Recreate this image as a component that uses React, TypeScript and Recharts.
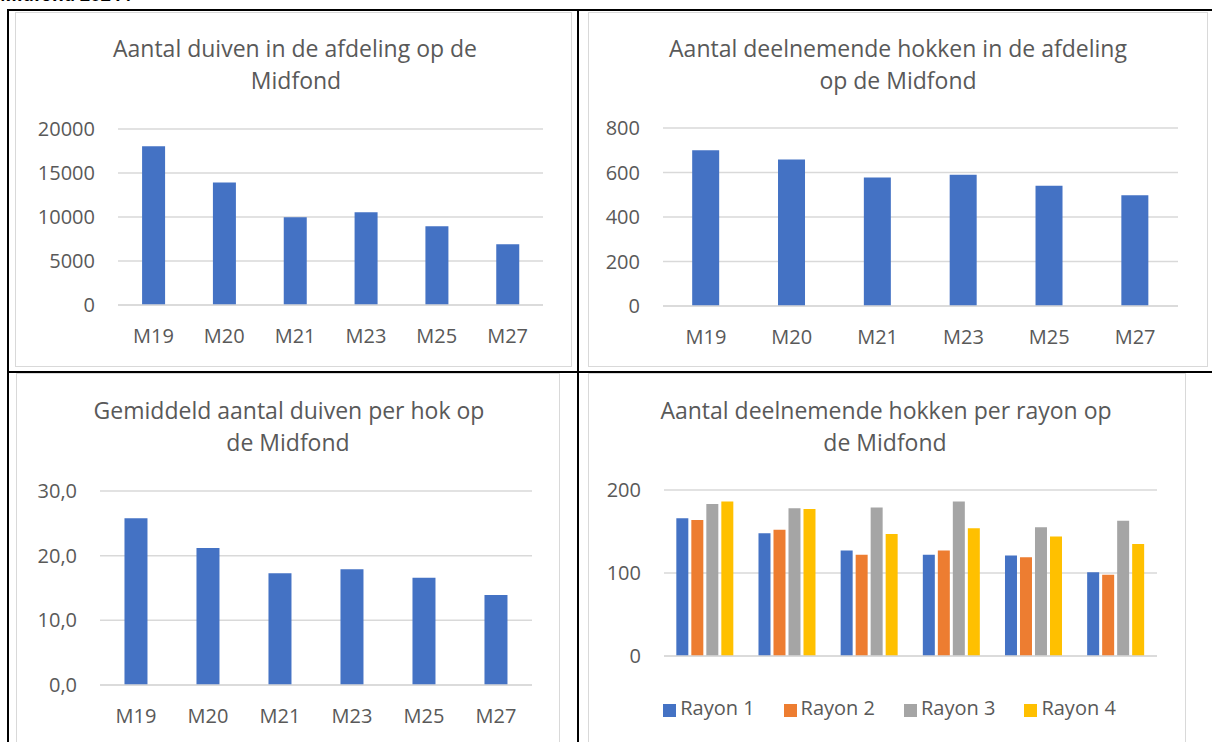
import React from 'react';
import { BarChart, Bar, XAxis, YAxis, CartesianGrid, Legend } from 'recharts';

// seizoenen (midfond)
const SEASONS = ['M19', 'M20', 'M21', 'M23', 'M25', 'M27'];

const DUIVEN = [18050, 13930, 9980, 10550, 8960, 6910];
const HOKKEN = [700, 658, 578, 590, 540, 498];
const GEMIDDELD = [25.8, 21.2, 17.3, 17.9, 16.6, 13.9];

const RAYON_1 = [166, 148, 127, 122, 121, 101];
const RAYON_2 = [164, 152, 122, 127, 119, 98];
const RAYON_3 = [183, 178, 179, 186, 155, 163];
const RAYON_4 = [186, 177, 147, 154, 144, 135];
const RAYON_NAMES = ['Rayon 1', 'Rayon 2', 'Rayon 3', 'Rayon 4'];

const TICKS_DUIVEN = [0, 5000, 10000, 15000, 20000];
const TICKS_HOKKEN = [0, 200, 400, 600, 800];
const TICKS_GEMIDDELD = [0, 10, 20, 30];
const TICKS_RAYON = [0, 100, 200];

const TEXT = '#595959';
const GRID = '#d9d9d9';
const BLUE = '#4472c4';
const RAYON_COLORS = ['#4472c4', '#ed7d31', '#a5a5a5', '#ffc000'];

const duivenData = SEASONS.map((s, i) => ({ season: s, value: DUIVEN[i] }));
const hokkenData = SEASONS.map((s, i) => ({ season: s, value: HOKKEN[i] }));
const gemData = SEASONS.map((s, i) => ({ season: s, value: GEMIDDELD[i] }));
const rayonData = SEASONS.map((s, i) => ({
  season: s,
  r1: RAYON_1[i],
  r2: RAYON_2[i],
  r3: RAYON_3[i],
  r4: RAYON_4[i],
}));

type Box = { x0: number; y0: number; x1: number; y1: number };
type Plot = { l: number; r: number; t: number; b: number };

const X_AXIS_H = 40;

const margins = (box: Box, plot: Plot) => ({
  top: plot.t - box.y0,
  right: box.x1 - plot.r,
  left: 0,
  bottom: box.y1 - plot.b - X_AXIS_H,
});

const Frame = ({ box }: { box: Box }) => (
  <div
    style={{
      position: 'absolute',
      left: box.x0,
      top: box.y0,
      width: box.x1 - box.x0,
      height: box.y1 - box.y0,
      border: `1px solid ${GRID}`,
      boxSizing: 'border-box',
    }}
  />
);

const Title = ({ lines, y }: { lines: { text: string; cx: number }[]; y: number }) => (
  <>
    {lines.map((l, i) => (
      <div
        key={i}
        style={{
          position: 'absolute',
          left: l.cx - 300,
          width: 600,
          top: y - 16 + i * 32,
          height: 32,
          lineHeight: '32px',
          textAlign: 'center',
          fontSize: 23,
          color: TEXT,
          whiteSpace: 'nowrap',
        }}
      >
        {l.text}
      </div>
    ))}
  </>
);

const Line = ({ x, y, w, h }: { x: number; y: number; w: number; h: number }) => (
  <div style={{ position: 'absolute', left: x, top: y, width: w, height: h, background: '#000' }} />
);

const fmtComma = (v: number) => v.toFixed(1).replace('.', ',');

type SimpleProps = {
  box: Box;
  plot: Plot;
  data: { season: string; value: number }[];
  ticks: number[];
  gap: string;
  fmt?: (v: number) => string;
};

const SimpleBars = ({ box, plot, data, ticks, gap, fmt }: SimpleProps) => (
  <div style={{ position: 'absolute', left: box.x0, top: box.y0 }}>
    <BarChart
      width={box.x1 - box.x0}
      height={box.y1 - box.y0}
      data={data}
      margin={margins(box, plot)}
      barCategoryGap={gap}
    >
      <CartesianGrid vertical={false} stroke={GRID} strokeWidth={1.5} />
      <XAxis
        dataKey="season"
        height={X_AXIS_H}
        axisLine={{ stroke: GRID, strokeWidth: 1.5 }}
        tickLine={false}
        tickSize={0}
        tickMargin={24}
        tick={{ fill: TEXT, fontSize: 20 }}
        interval={0}
      />
      <YAxis
        width={plot.l - box.x0}
        domain={[ticks[0], ticks[ticks.length - 1]]}
        ticks={ticks}
        interval={0}
        axisLine={false}
        tickLine={false}
        tickSize={0}
        tickMargin={23}
        tick={{ fill: TEXT, fontSize: 20 }}
        tickFormatter={fmt}
      />
      <Bar dataKey="value" fill={BLUE} isAnimationActive={false} />
    </BarChart>
  </div>
);

const BOX_1: Box = { x0: 15, y0: 12, x1: 572, y1: 367 };
const PLOT_1: Plot = { l: 118, r: 543, t: 129, b: 305 };
const BOX_2: Box = { x0: 588, y0: 12, x1: 1208, y1: 367 };
const PLOT_2: Plot = { l: 663, r: 1178, t: 128, b: 306 };
const BOX_3: Box = { x0: 16, y0: 373, x1: 560, y1: 760 };
const PLOT_3: Plot = { l: 100, r: 532, t: 491, b: 685 };
const BOX_4: Box = { x0: 588, y0: 373, x1: 1186, y1: 760 };
const PLOT_4: Plot = { l: 664, r: 1157, t: 490, b: 656 };

export default function App() {
  return (
    <div
      style={{
        position: 'fixed',
        left: 0,
        top: 0,
        width: 1212,
        height: 742,
        overflow: 'hidden',
        background: '#fff',
        fontFamily: '"Open Sans", sans-serif',
      }}
    >
      <div
        style={{
          position: 'absolute',
          left: 0,
          top: -18,
          fontSize: 18,
          lineHeight: '24px',
          fontWeight: 700,
          color: '#000',
          whiteSpace: 'nowrap',
        }}
      >
        Midfond 2024 :
      </div>

      <Frame box={BOX_1} />
      <Frame box={BOX_2} />
      <Frame box={BOX_3} />
      <Frame box={BOX_4} />

      <Title
        y={48}
        lines={[
          { text: 'Aantal duiven in de afdeling op de', cx: 295 },
          { text: 'Midfond', cx: 296 },
        ]}
      />
      <Title
        y={48}
        lines={[
          { text: 'Aantal deelnemende hokken in de afdeling', cx: 898 },
          { text: 'op de Midfond', cx: 898 },
        ]}
      />
      <Title
        y={410}
        lines={[
          { text: 'Gemiddeld aantal duiven per hok op', cx: 289 },
          { text: 'de Midfond', cx: 288 },
        ]}
      />
      <Title
        y={410}
        lines={[
          { text: 'Aantal deelnemende hokken per rayon op', cx: 886 },
          { text: 'de Midfond', cx: 885 },
        ]}
      />

      <SimpleBars box={BOX_1} plot={PLOT_1} data={duivenData} ticks={TICKS_DUIVEN} gap="34%" />
      <SimpleBars box={BOX_2} plot={PLOT_2} data={hokkenData} ticks={TICKS_HOKKEN} gap="34%" />
      <SimpleBars
        box={BOX_3}
        plot={PLOT_3}
        data={gemData}
        ticks={TICKS_GEMIDDELD}
        gap="34%"
        fmt={fmtComma}
      />

      <div style={{ position: 'absolute', left: BOX_4.x0, top: BOX_4.y0 }}>
        <BarChart
          width={BOX_4.x1 - BOX_4.x0}
          height={BOX_4.y1 - BOX_4.y0}
          data={rayonData}
          margin={margins(BOX_4, PLOT_4)}
          barCategoryGap="15%"
          barGap={3}
        >
          <CartesianGrid vertical={false} stroke={GRID} strokeWidth={1.5} />
          <XAxis
            dataKey="season"
            height={X_AXIS_H}
            axisLine={{ stroke: GRID, strokeWidth: 1.5 }}
            tickLine={false}
            tick={false}
          />
          <YAxis
            width={PLOT_4.l - BOX_4.x0}
            domain={[0, 200]}
            ticks={TICKS_RAYON}
            interval={0}
            axisLine={false}
            tickLine={false}
            tickSize={0}
            tickMargin={23}
            tick={{ fill: TEXT, fontSize: 20 }}
          />
          <Legend
            layout="horizontal"
            align="center"
            verticalAlign="middle"
            iconType="square"
            iconSize={13}
            wrapperStyle={{ top: 708 - BOX_4.y0 - 14, left: 56, width: 520 }}
            formatter={(v: string) => (
              <span style={{ color: TEXT, fontSize: 20, paddingRight: 19 }}>{v}</span>
            )}
          />
          {['r1', 'r2', 'r3', 'r4'].map((k, i) => (
            <Bar
              key={k}
              dataKey={k}
              name={RAYON_NAMES[i]}
              fill={RAYON_COLORS[i]}
              isAnimationActive={false}
            />
          ))}
        </BarChart>
      </div>

      {/* tabelranden */}
      <Line x={7} y={9} w={1205} h={2} />
      <Line x={7} y={9} w={2} h={733} />
      <Line x={577} y={9} w={2} h={733} />
      <Line x={7} y={371} w={1205} h={2} />
    </div>
  );
}
